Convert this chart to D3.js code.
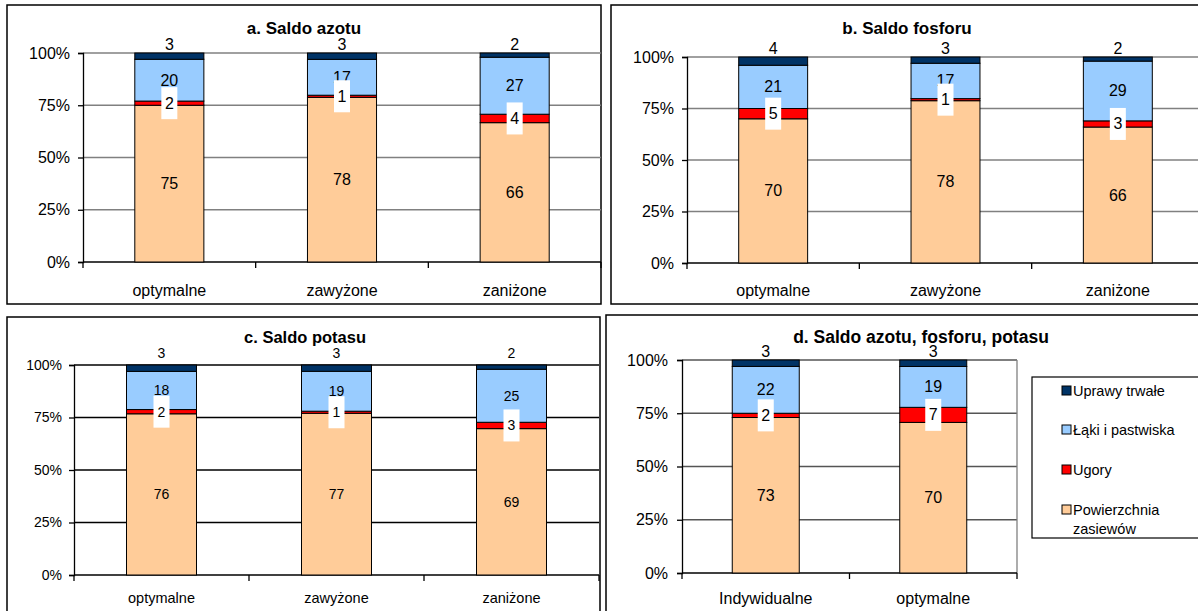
<!DOCTYPE html>
<html><head><meta charset="utf-8">
<script src="https://cdn.jsdelivr.net/npm/d3@7"></script>
<style>
html,body{margin:0;padding:0;background:#fff;}
svg{display:block;font-family:"Liberation Sans",Arial,sans-serif;}
</style></head>
<body>
<svg id="chart" width="1198" height="611"></svg>
<script>
// ---- data ----
const seriesKeys = ["zasiewy","ugory","laki","trwale"];
const seriesNames = ["Powierzchnia zasiewów","Ugory","Łąki i pastwiska","Uprawy trwałe"];
const seriesColors = ["#FFCC99","#FF0000","#99CCFF","#003366"];
const yTicks = [0,0.25,0.5,0.75,1];

const titleA = "a. Saldo azotu";
const catsA = ["optymalne","zawyżone","zaniżone"];
const zasiewyA = [75,78,66];
const ugoryA = [2,1,4];
const lakiA = [20,17,27];
const trwaleA = [3,3,2];

const titleB = "b. Saldo fosforu";
const catsB = ["optymalne","zawyżone","zaniżone"];
const zasiewyB = [70,78,66];
const ugoryB = [5,1,3];
const lakiB = [21,17,29];
const trwaleB = [4,3,2];

const titleC = "c. Saldo potasu";
const catsC = ["optymalne","zawyżone","zaniżone"];
const zasiewyC = [76,77,69];
const ugoryC = [2,1,3];
const lakiC = [18,19,25];
const trwaleC = [3,3,2];

const titleD = "d. Saldo azotu, fosforu, potasu";
const catsD = ["Indywidualne","optymalne"];
const zasiewyD = [73,70];
const ugoryD = [2,7];
const lakiD = [22,19];
const trwaleD = [3,3];

// ---- drawing ----
const svg = d3.select("#chart");
svg.append("rect").attr("width",1198).attr("height",611).attr("fill","#fff");

function rows(cats, z, u, l, t){
  return cats.map((c,i)=>({cat:c, zasiewy:z[i], ugory:u[i], laki:l[i], trwale:t[i]}));
}

function drawPanel(cfg, title, cats, data){
  const g = svg.append("g");
  // panel frame
  g.append("rect").attr("x",cfg.box[0]).attr("y",cfg.box[1]).attr("width",cfg.box[2]).attr("height",cfg.box[3])
    .attr("fill","#fff").attr("stroke","#000").attr("stroke-width",1.5);

  const x = d3.scaleBand().domain(cats).range([cfg.x0,cfg.x1]).paddingInner(0.6).paddingOuter(0.3);
  const y = d3.scaleLinear().domain([0,1]).range([cfg.y0,cfg.y1]);

  // gridlines
  g.selectAll(".grid").data(yTicks.filter(t=>t>0)).join("line")
    .attr("x1",cfg.x0).attr("x2",cfg.x1).attr("y1",d=>y(d)).attr("y2",d=>y(d))
    .attr("stroke",cfg.grid).attr("stroke-width",1.3);
  if(cfg.rightBorder){
    g.append("line").attr("x1",cfg.x1).attr("x2",cfg.x1).attr("y1",y(1)).attr("y2",y(0))
      .attr("stroke","#808080").attr("stroke-width",1.3);
  }

  // y axis
  const yAxis = d3.axisLeft(y).tickValues(yTicks).tickFormat(d3.format(".0%")).tickSize(5).tickPadding(cfg.tickPad);
  const ya = g.append("g").attr("transform",`translate(${cfg.x0},0)`).call(yAxis);
  ya.select(".domain").attr("stroke","#000").attr("stroke-width",1.3);
  ya.selectAll(".tick line").attr("stroke","#000").attr("stroke-width",1.3);
  ya.selectAll(".tick text").attr("font-size",cfg.tickFont).attr("fill","#000")
    .attr("font-family","Liberation Sans, Arial, sans-serif");

  // x axis line + boundary ticks
  g.append("line").attr("x1",cfg.x0).attr("x2",cfg.x1).attr("y1",y(0)).attr("y2",y(0))
    .attr("stroke","#000").attr("stroke-width",1.3);
  const step = x.step();
  g.selectAll(".xb").data(d3.range(cats.length+1)).join("line")
    .attr("x1",i=>cfg.x0+i*step).attr("x2",i=>cfg.x0+i*step)
    .attr("y1",y(0)).attr("y2",y(0)+6).attr("stroke","#000").attr("stroke-width",1.3);
  g.selectAll(".xl").data(cats).join("text")
    .attr("x",d=>x(d)+x.bandwidth()/2).attr("y",cfg.xLabelY)
    .attr("text-anchor","middle").attr("dominant-baseline","central")
    .attr("font-size",cfg.xFont).text(d=>d);

  // stacked bars
  const stack = d3.stack().keys(seriesKeys).offset(d3.stackOffsetExpand);
  const layers = stack(data);
  layers.forEach((layer,k)=>{
    g.selectAll(".s"+k).data(layer).join("rect")
      .attr("x",d=>x(d.data.cat)).attr("width",x.bandwidth())
      .attr("y",d=>y(d[1])).attr("height",d=>y(d[0])-y(d[1]))
      .attr("fill",seriesColors[k]).attr("stroke","#000").attr("stroke-width",1);
  });

  const cx = d=>x(d.data.cat)+x.bandwidth()/2;
  const mid = d=>(y(d[0])+y(d[1]))/2;
  // labels: zasiewy, laki inside; trwale above
  [0,2].forEach(k=>{
    g.selectAll(".l"+k).data(layers[k]).join("text")
      .attr("x",cx).attr("y",mid).attr("text-anchor","middle").attr("dominant-baseline","central")
      .attr("font-size",cfg.dataFont).text(d=>d.data[seriesKeys[k]]);
  });
  g.selectAll(".l3").data(layers[3]).join("text")
    .attr("x",cx).attr("y",d=>y(d[1])-cfg.topOff).attr("text-anchor","middle").attr("dominant-baseline","central")
    .attr("font-size",cfg.dataFont).text(d=>d.data.trwale);
  // ugory labels with white box
  g.selectAll(".b1").data(layers[1]).join("rect")
    .attr("x",d=>cx(d)-8).attr("y",d=>mid(d)-16).attr("width",16).attr("height",32).attr("fill","#fff");
  g.selectAll(".l1").data(layers[1]).join("text")
    .attr("x",cx).attr("y",mid).attr("text-anchor","middle").attr("dominant-baseline","central")
    .attr("font-size",cfg.dataFont).text(d=>d.data.ugory);

  // title
  g.append("text").attr("x",cfg.tx).attr("y",cfg.ty).attr("text-anchor","middle").attr("dominant-baseline","central")
    .attr("font-size",cfg.titleFont).attr("font-weight","bold").text(title);
  return g;
}

drawPanel({box:[7,5,594,299], x0:83, x1:601, y0:262, y1:53, grid:"#808080", tickFont:16, tickPad:8,
  xFont:16, xLabelY:290, dataFont:16, topOff:9, tx:304, ty:28, titleFont:17},
  titleA, catsA, rows(catsA,zasiewyA,ugoryA,lakiA,trwaleA));

drawPanel({box:[611,5,630,299], x0:687, x1:1204, y0:263, y1:57, grid:"#808080", tickFont:16, tickPad:8,
  xFont:16, xLabelY:290, dataFont:16, topOff:9, tx:907, ty:28, titleFont:17},
  titleB, catsB, rows(catsB,zasiewyB,ugoryB,lakiB,trwaleB));

drawPanel({box:[7,317,593,330], x0:74, x1:599, y0:575, y1:365, grid:"#000", tickFont:14, tickPad:7,
  xFont:14.5, xLabelY:598, dataFont:14, topOff:12, tx:305, ty:337, titleFont:16.5},
  titleC, catsC, rows(catsC,zasiewyC,ugoryC,lakiC,trwaleC));

const gD = drawPanel({box:[606,315,630,330], x0:682, x1:1017, y0:573, y1:360, grid:"#555", tickFont:16, tickPad:9,
  xFont:16, xLabelY:598, dataFont:16, topOff:9, tx:921, ty:337, titleFont:17.5, rightBorder:true},
  titleD, catsD, rows(catsD,zasiewyD,ugoryD,lakiD,trwaleD));

// legend (order top to bottom: reverse of stack)
const leg = gD.append("g");
leg.append("rect").attr("x",1032).attr("y",377).attr("width",180).attr("height",161)
  .attr("fill","#fff").attr("stroke","#000").attr("stroke-width",1.2);
const legOrder = [3,2,1,0];
const legY = [391,430,470,510];
legOrder.forEach((k,i)=>{
  leg.append("rect").attr("x",1062).attr("y",legY[i]-5).attr("width",9).attr("height",9)
    .attr("fill",seriesColors[k]).attr("stroke","#000").attr("stroke-width",1);
  const words = seriesNames[k] === "Powierzchnia zasiewów" ? ["Powierzchnia","zasiewów"] : [seriesNames[k]];
  words.forEach((w,j)=>{
    leg.append("text").attr("x",1073).attr("y",legY[i]+j*19).attr("dominant-baseline","central")
      .attr("font-size",14.5).text(w);
  });
});
</script>
</body></html>
